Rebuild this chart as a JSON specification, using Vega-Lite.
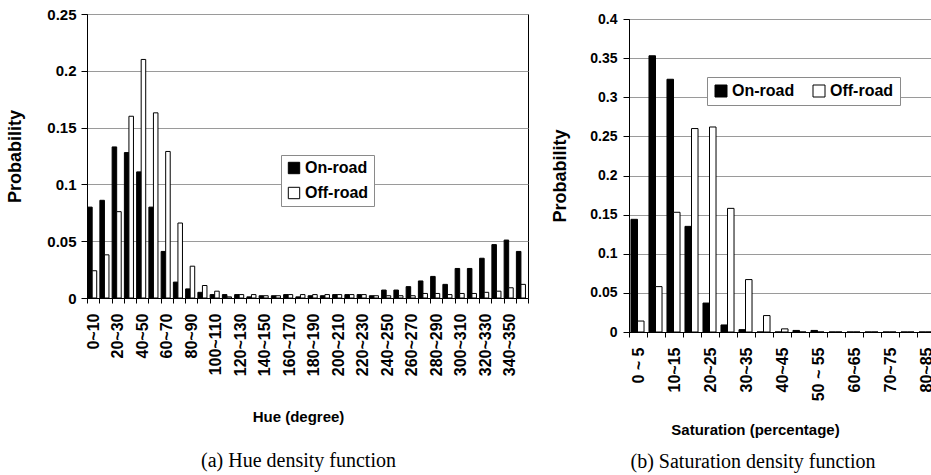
{
  "$schema": "https://vega.github.io/schema/vega-lite/v6.json",
  "background": "white",
  "padding": {"left": 6, "top": 6, "right": 0, "bottom": 0},
  "spacing": 20,
  "datasets": {
    "hue": [
      {"cat": "0~10", "series": "On-road", "p": 0.080}, {"cat": "0~10", "series": "Off-road", "p": 0.024},
      {"cat": "10~20", "series": "On-road", "p": 0.086}, {"cat": "10~20", "series": "Off-road", "p": 0.038},
      {"cat": "20~30", "series": "On-road", "p": 0.133}, {"cat": "20~30", "series": "Off-road", "p": 0.076},
      {"cat": "30~40", "series": "On-road", "p": 0.128}, {"cat": "30~40", "series": "Off-road", "p": 0.160},
      {"cat": "40~50", "series": "On-road", "p": 0.111}, {"cat": "40~50", "series": "Off-road", "p": 0.210},
      {"cat": "50~60", "series": "On-road", "p": 0.080}, {"cat": "50~60", "series": "Off-road", "p": 0.163},
      {"cat": "60~70", "series": "On-road", "p": 0.041}, {"cat": "60~70", "series": "Off-road", "p": 0.129},
      {"cat": "70~80", "series": "On-road", "p": 0.014}, {"cat": "70~80", "series": "Off-road", "p": 0.066},
      {"cat": "80~90", "series": "On-road", "p": 0.008}, {"cat": "80~90", "series": "Off-road", "p": 0.028},
      {"cat": "90~100", "series": "On-road", "p": 0.005}, {"cat": "90~100", "series": "Off-road", "p": 0.011},
      {"cat": "100~110", "series": "On-road", "p": 0.003}, {"cat": "100~110", "series": "Off-road", "p": 0.006},
      {"cat": "110~120", "series": "On-road", "p": 0.003}, {"cat": "110~120", "series": "Off-road", "p": 0.001},
      {"cat": "120~130", "series": "On-road", "p": 0.003}, {"cat": "120~130", "series": "Off-road", "p": 0.003},
      {"cat": "130~140", "series": "On-road", "p": 0.001}, {"cat": "130~140", "series": "Off-road", "p": 0.003},
      {"cat": "140~150", "series": "On-road", "p": 0.002}, {"cat": "140~150", "series": "Off-road", "p": 0.002},
      {"cat": "150~160", "series": "On-road", "p": 0.002}, {"cat": "150~160", "series": "Off-road", "p": 0.002},
      {"cat": "160~170", "series": "On-road", "p": 0.003}, {"cat": "160~170", "series": "Off-road", "p": 0.003},
      {"cat": "170~180", "series": "On-road", "p": 0.001}, {"cat": "170~180", "series": "Off-road", "p": 0.003},
      {"cat": "180~190", "series": "On-road", "p": 0.002}, {"cat": "180~190", "series": "Off-road", "p": 0.003},
      {"cat": "190~200", "series": "On-road", "p": 0.002}, {"cat": "190~200", "series": "Off-road", "p": 0.003},
      {"cat": "200~210", "series": "On-road", "p": 0.003}, {"cat": "200~210", "series": "Off-road", "p": 0.003},
      {"cat": "210~220", "series": "On-road", "p": 0.003}, {"cat": "210~220", "series": "Off-road", "p": 0.003},
      {"cat": "220~230", "series": "On-road", "p": 0.003}, {"cat": "220~230", "series": "Off-road", "p": 0.003},
      {"cat": "230~240", "series": "On-road", "p": 0.002}, {"cat": "230~240", "series": "Off-road", "p": 0.002},
      {"cat": "240~250", "series": "On-road", "p": 0.007}, {"cat": "240~250", "series": "Off-road", "p": 0.002},
      {"cat": "250~260", "series": "On-road", "p": 0.007}, {"cat": "250~260", "series": "Off-road", "p": 0.002},
      {"cat": "260~270", "series": "On-road", "p": 0.010}, {"cat": "260~270", "series": "Off-road", "p": 0.002},
      {"cat": "270~280", "series": "On-road", "p": 0.015}, {"cat": "270~280", "series": "Off-road", "p": 0.004},
      {"cat": "280~290", "series": "On-road", "p": 0.019}, {"cat": "280~290", "series": "Off-road", "p": 0.004},
      {"cat": "290~300", "series": "On-road", "p": 0.012}, {"cat": "290~300", "series": "Off-road", "p": 0.003},
      {"cat": "300~310", "series": "On-road", "p": 0.026}, {"cat": "300~310", "series": "Off-road", "p": 0.004},
      {"cat": "310~320", "series": "On-road", "p": 0.026}, {"cat": "310~320", "series": "Off-road", "p": 0.004},
      {"cat": "320~330", "series": "On-road", "p": 0.035}, {"cat": "320~330", "series": "Off-road", "p": 0.005},
      {"cat": "330~340", "series": "On-road", "p": 0.047}, {"cat": "330~340", "series": "Off-road", "p": 0.006},
      {"cat": "340~350", "series": "On-road", "p": 0.051}, {"cat": "340~350", "series": "Off-road", "p": 0.009},
      {"cat": "350~360", "series": "On-road", "p": 0.041}, {"cat": "350~360", "series": "Off-road", "p": 0.012}
    ],
    "sat": [
      {"cat": "0 ~ 5", "series": "On-road", "p": 0.144}, {"cat": "0 ~ 5", "series": "Off-road", "p": 0.014},
      {"cat": "5~10", "series": "On-road", "p": 0.353}, {"cat": "5~10", "series": "Off-road", "p": 0.058},
      {"cat": "10~15", "series": "On-road", "p": 0.323}, {"cat": "10~15", "series": "Off-road", "p": 0.153},
      {"cat": "15~20", "series": "On-road", "p": 0.135}, {"cat": "15~20", "series": "Off-road", "p": 0.260},
      {"cat": "20~25", "series": "On-road", "p": 0.037}, {"cat": "20~25", "series": "Off-road", "p": 0.262},
      {"cat": "25~30", "series": "On-road", "p": 0.009}, {"cat": "25~30", "series": "Off-road", "p": 0.158},
      {"cat": "30~35", "series": "On-road", "p": 0.003}, {"cat": "30~35", "series": "Off-road", "p": 0.067},
      {"cat": "35~40", "series": "On-road", "p": 0.0}, {"cat": "35~40", "series": "Off-road", "p": 0.021},
      {"cat": "40~45", "series": "On-road", "p": 0.0}, {"cat": "40~45", "series": "Off-road", "p": 0.004},
      {"cat": "45~50", "series": "On-road", "p": 0.002}, {"cat": "45~50", "series": "Off-road", "p": 0.0},
      {"cat": "50 ~ 55", "series": "On-road", "p": 0.002}, {"cat": "50 ~ 55", "series": "Off-road", "p": 0.0},
      {"cat": "55~60", "series": "On-road", "p": 0.0}, {"cat": "55~60", "series": "Off-road", "p": 0.0},
      {"cat": "60~65", "series": "On-road", "p": 0.0}, {"cat": "60~65", "series": "Off-road", "p": 0.0},
      {"cat": "65~70", "series": "On-road", "p": 0.0}, {"cat": "65~70", "series": "Off-road", "p": 0.0},
      {"cat": "70~75", "series": "On-road", "p": 0.0}, {"cat": "70~75", "series": "Off-road", "p": 0.0},
      {"cat": "75~80", "series": "On-road", "p": 0.0}, {"cat": "75~80", "series": "Off-road", "p": 0.0},
      {"cat": "80~85", "series": "On-road", "p": 0.0}, {"cat": "80~85", "series": "Off-road", "p": 0.0}
    ]
  },
  "config": {
    "font": "Liberation Sans",
    "view": {"stroke": "black", "strokeWidth": 1},
    "axis": {
      "labelFont": "Liberation Sans", "labelFontWeight": "bold", "labelColor": "black",
      "titleFont": "Liberation Sans", "titleFontWeight": "bold", "titleColor": "black",
      "domainColor": "black", "tickColor": "black", "gridColor": "#9a9a9a"
    },
    "legend": {
      "labelFont": "Liberation Sans", "labelFontWeight": "bold", "labelColor": "black",
      "symbolType": "square", "symbolStrokeColor": "black", "symbolStrokeWidth": 1,
      "strokeColor": "#8a8a8a", "fillColor": "white"
    },
    "title": {"font": "Liberation Serif", "fontWeight": "normal", "fontSize": 20, "color": "black"}
  },
  "resolve": {
    "scale": {"x": "independent", "y": "independent", "fill": "independent", "xOffset": "independent"},
    "legend": {"fill": "independent"}
  },
  "hconcat": [
    {
      "width": 441, "height": 284,
      "data": {"name": "hue"},
      "title": {"text": "(a) Hue density function", "orient": "bottom", "offset": 26, "dx": -9},
      "mark": {"type": "bar", "stroke": "black", "strokeWidth": 1},
      "encoding": {
        "x": {
          "field": "cat", "type": "nominal", "sort": null,
          "scale": {"paddingInner": 0, "paddingOuter": 0},
          "axis": {
            "title": "Hue (degree)", "titleFontSize": 15, "titlePadding": 34, "titleX": 211,
            "labelAngle": -90, "labelFontSize": 16, "labelPadding": 10, "labelOverlap": false,
            "labelExpr": "parseInt(datum.label) % 20 == 0 ? datum.label : ''",
            "tickBand": "extent", "tickSize": 5, "grid": false
          }
        },
        "xOffset": {
          "field": "series", "type": "nominal", "sort": ["On-road", "Off-road"],
          "scale": {"paddingOuter": 0.35, "align": 0.2}
        },
        "y": {
          "field": "p", "type": "quantitative",
          "scale": {"domain": [0, 0.25], "nice": false},
          "axis": {
            "title": "Probability", "titleFontSize": 18, "titlePadding": 22,
            "values": [0, 0.05, 0.1, 0.15, 0.2, 0.25], "format": "~g",
            "labelFontSize": 15, "labelPadding": 5, "tickSize": 6, "grid": true
          }
        },
        "fill": {
          "field": "series", "type": "nominal",
          "scale": {"domain": ["On-road", "Off-road"], "range": ["black", "white"]},
          "legend": {
            "orient": "none", "legendX": 194, "legendY": 141, "direction": "vertical",
            "title": null, "symbolSize": 130, "labelFontSize": 16, "labelOffset": 3,
            "rowPadding": 9, "padding": 5
          }
        }
      }
    },
    {
      "bounds": "flush",
      "spacing": 4,
      "vconcat": [
        {
          "width": 306, "height": 1,
          "data": {"values": [{}]},
          "view": {"stroke": null},
          "mark": {"type": "point", "opacity": 0}
        },
        {
          "width": 306, "height": 313,
          "data": {"name": "sat"},
          "title": {"text": "(b) Saturation density function", "orient": "bottom", "offset": 14, "dx": -29},
          "mark": {"type": "bar", "stroke": "black", "strokeWidth": 1},
          "encoding": {
            "x": {
              "field": "cat", "type": "nominal", "sort": null,
              "scale": {"paddingInner": 0, "paddingOuter": 0},
              "axis": {
                "title": "Saturation (percentage)", "titleFontSize": 15, "titlePadding": 22, "titleX": 126,
                "labelAngle": -90, "labelFontSize": 16, "labelPadding": 10, "labelOverlap": false,
                "labelExpr": "parseInt(datum.label) % 10 == 0 ? datum.label : ''",
                "tickBand": "extent", "tickSize": 5, "grid": false
              }
            },
            "xOffset": {
              "field": "series", "type": "nominal", "sort": ["On-road", "Off-road"],
              "scale": {"paddingOuter": 0.38, "align": 0.4}
            },
            "y": {
              "field": "p", "type": "quantitative",
              "scale": {"domain": [0, 0.4], "nice": false},
              "axis": {
                "title": "Probability", "titleFontSize": 18, "titlePadding": 20,
                "values": [0, 0.05, 0.1, 0.15, 0.2, 0.25, 0.3, 0.35, 0.4], "format": "~g",
                "labelFontSize": 14, "labelPadding": 6, "tickSize": 6, "grid": true
              }
            },
            "fill": {
              "field": "series", "type": "nominal",
              "scale": {"domain": ["On-road", "Off-road"], "range": ["black", "white"]},
              "legend": {
                "orient": "none", "legendX": 78, "legendY": 63, "direction": "horizontal",
                "title": null, "symbolSize": 144, "labelFontSize": 16, "labelOffset": 3,
                "columnPadding": 16, "padding": 6
              }
            }
          }
        }
      ]
    }
  ]
}
